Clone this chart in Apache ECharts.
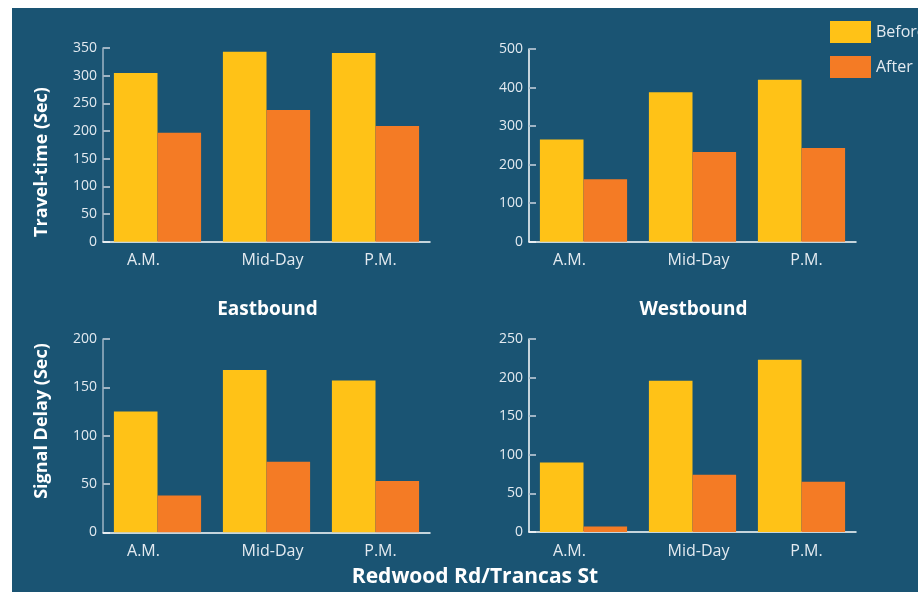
<!DOCTYPE html>
<html>
<head>
<meta charset="utf-8">
<script src="https://cdn.jsdelivr.net/npm/echarts@6/dist/echarts.min.js"></script>
<style>
  html, body { margin: 0; padding: 0; background: #ffffff; }
  #chart { position: absolute; left: 12px; top: 8px; width: 906px; height: 584px; background: #1a5473; }
</style>
</head>
<body>
<div id="chart"></div>
<script>
// Travel-time and signal delay, before/after, Redwood Rd/Trancas St
const periods = ['A.M.', 'Mid-Day', 'P.M.'];
const seriesNames = ['Before', 'After'];

const eastTravelBefore = [305, 343, 341];
const eastTravelAfter  = [197, 238, 209];
const westTravelBefore = [265, 388, 420];
const westTravelAfter  = [162, 233, 243];
const eastDelayBefore  = [125, 168, 157];
const eastDelayAfter   = [38, 73, 53];
const westDelayBefore  = [90, 196, 223];
const westDelayAfter   = [7, 74, 65];

const yMax      = [350, 500, 200, 250];
const yInterval = [50, 100, 50, 50];

const panelTitles = ['Eastbound', 'Westbound'];
const yNames = ['Travel-time (Sec)', 'Signal Delay (Sec)'];
const footTitle = 'Redwood Rd/Trancas St';

const FONT = '"Open Sans", "Noto Sans", sans-serif';
const YELLOW = '#ffc217';
const ORANGE = '#f47b25';
const LABEL = '#e3eaf0';

const chart = echarts.init(document.getElementById('chart'), null, { renderer: 'canvas' });

// chart div is offset by (12, 8) in the page
const grids = [
  { left: 91, top: 40, width: 327, height: 193.7 },
  { left: 517, top: 41, width: 327, height: 192.7 },
  { left: 91, top: 331, width: 327, height: 193.3 },
  { left: 517, top: 331, width: 327, height: 193 }
];

// per-category horizontal nudge of the period labels
const labelShift = { 'A.M.': -14, 'Mid-Day': 6, 'P.M.': 5 };
const richLabels = {};
periods.forEach((p, i) => {
  const s = labelShift[p];
  richLabels['c' + i] = {
    color: LABEL, fontSize: 16, fontFamily: FONT,
    padding: s < 0 ? [0, -2 * s, 0, 0] : [0, 0, 0, 2 * s]
  };
});

const yAxisColors = ['#9fb4c4', '#ffffff', '#9fb4c4', '#ffffff'];

const xAxes = grids.map((g, i) => ({
  type: 'category', gridIndex: i, data: periods,
  axisLine: { show: true, lineStyle: { color: '#ffffff', width: 1.5 } },
  axisTick: { show: false },
  axisLabel: {
    margin: 11,
    formatter: (v) => '{c' + periods.indexOf(v) + '|' + v + '}',
    rich: richLabels
  },
  z: 1
}));

const yAxes = grids.map((g, i) => ({
  type: 'value', gridIndex: i, min: 0, max: yMax[i], interval: yInterval[i],
  splitLine: { show: false },
  axisLine: { show: true, lineStyle: { color: yAxisColors[i], width: 1.5 } },
  axisTick: { show: true, inside: true, length: 7, lineStyle: { color: '#9fb4c4', width: 2 } },
  axisLabel: { color: LABEL, fontSize: 14, fontFamily: FONT, margin: 6 }
}));

const panelData = [
  [eastTravelBefore, eastTravelAfter],
  [westTravelBefore, westTravelAfter],
  [eastDelayBefore, eastDelayAfter],
  [westDelayBefore, westDelayAfter]
];

const series = [];
panelData.forEach((pair, i) => {
  pair.forEach((vals, k) => {
    series.push({
      name: seriesNames[k], type: 'bar', xAxisIndex: i, yAxisIndex: i,
      data: vals, barGap: '0%', barCategoryGap: '20%',
      itemStyle: { color: k === 0 ? YELLOW : ORANGE },
      emphasis: { disabled: true }, z: 2
    });
  });
});

const titleStyle = { color: '#ffffff', fontSize: 19, fontWeight: 'bold', fontFamily: FONT };

chart.setOption({
  backgroundColor: '#1a5473',
  animation: false,
  textStyle: { fontFamily: FONT },
  grid: grids.map(g => Object.assign({ containLabel: false }, g)),
  xAxis: xAxes,
  yAxis: yAxes,
  series: series,
  legend: {
    data: seriesNames, orient: 'vertical', left: 818, top: 13, padding: 0,
    itemWidth: 41, itemHeight: 22, itemGap: 13, icon: 'rect',
    textStyle: { color: LABEL, fontSize: 16, fontFamily: FONT },
    selectedMode: false
  },
  title: [
    { text: panelTitles[0], left: 250.5, top: 287, textAlign: 'center', textStyle: titleStyle },
    { text: panelTitles[1], left: 676.5, top: 287, textAlign: 'center', textStyle: titleStyle },
    { text: footTitle, left: 458, top: 554, textAlign: 'center', textStyle: Object.assign({}, titleStyle, { fontSize: 21 }) }
  ],
  graphic: [
    {
      type: 'text', x: 30, y: 154, rotation: Math.PI / 2,
      style: { text: yNames[0], fill: '#ffffff', font: 'bold 18px ' + FONT, align: 'center', verticalAlign: 'middle' }
    },
    {
      type: 'text', x: 30, y: 413, rotation: Math.PI / 2,
      style: { text: yNames[1], fill: '#ffffff', font: 'bold 18px ' + FONT, align: 'center', verticalAlign: 'middle' }
    }
  ]
});
</script>
</body>
</html>
